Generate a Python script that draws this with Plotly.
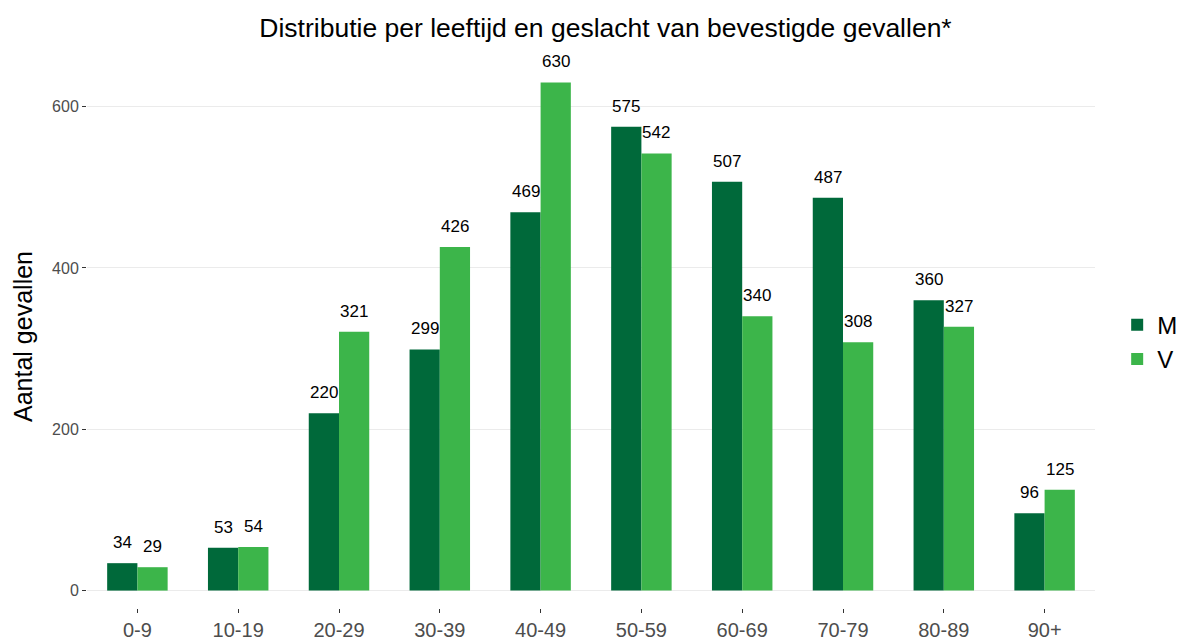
import plotly.graph_objects as go

categories = ["0-9", "10-19", "20-29", "30-39", "40-49", "50-59", "60-69", "70-79", "80-89", "90+"]
men = [34, 53, 220, 299, 469, 575, 507, 487, 360, 96]
women = [29, 54, 321, 426, 630, 542, 340, 308, 327, 125]
series_names = ["M", "V"]
colors = ["#00693A", "#3CB54A"]

fig = go.Figure()
for name, vals, col in zip(series_names, [men, women], colors):
    fig.add_trace(go.Bar(
        x=categories, y=vals, name=name, marker=dict(color=col, line=dict(width=0)),
    ))

# value labels above bars
for vals, shift in zip([men, women], [-15.0, 15.0]):
    for c, v in zip(categories, vals):
        fig.add_annotation(x=c, y=v, xref="x", yref="y", text=str(v), showarrow=False,
                           xshift=shift, yshift=9, yanchor="bottom",
                           font=dict(size=17, color="black", family="Liberation Sans"))

fig.update_layout(
    width=1195, height=641,
    barmode="group", bargap=0.4, bargroupgap=0,
    plot_bgcolor="white", paper_bgcolor="white",
    font=dict(family="Liberation Sans"),
    title=dict(text="Distributie per leeftijd en geslacht van bevestigde gevallen*",
               x=0.5, xanchor="center", y=0.969, yanchor="middle",
               font=dict(size=26.5, color="black")),
    margin=dict(l=78.5, r=108, t=49, b=33),
    legend=dict(x=1.022, y=0.49, xanchor="left", yanchor="middle",
                font=dict(size=24, color="black"), tracegroupgap=0, itemwidth=30),
    xaxis=dict(showgrid=False, ticks="outside", ticklen=4, tickcolor="#333333",
               tickfont=dict(size=20, color="#4D4D4D"), showline=False, zeroline=False,
               automargin=False, anchor="free", position=0.014),
    yaxis=dict(range=[-31.5, 661.5], tickvals=[0, 200, 400, 600],
               showgrid=True, gridcolor="#EBEBEB", gridwidth=1, zeroline=False,
               ticks="outside", ticklen=4, tickcolor="#333333",
               tickfont=dict(size=16, color="#4D4D4D"), automargin=False,
               title=dict(text="Aantal gevallen", font=dict(size=25, color="black"), standoff=12)),
)
fig.write_html("out.html")
